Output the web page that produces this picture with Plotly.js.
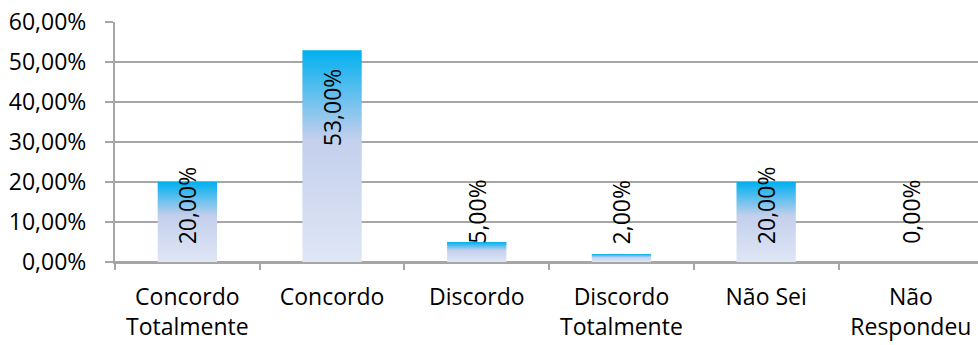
<!DOCTYPE html>
<html>
<head>
<meta charset="utf-8">
<script src="https://cdn.plot.ly/plotly-3.0.1.min.js"></script>
<style>html,body{margin:0;padding:0;background:#fff;}#chart{width:978px;height:345px;}</style>
</head>
<body>
<div id="chart"></div>
<script>
// ---- data ----
const categories = ["Concordo<br>Totalmente", "Concordo", "Discordo", "Discordo<br>Totalmente", "Não Sei", "Não<br>Respondeu"];
const values = [0.20, 0.53, 0.05, 0.02, 0.20, 0.00];
const yTickVals = [0, 0.1, 0.2, 0.3, 0.4, 0.5, 0.6];

// ---- style ----
const FONT = "Open Sans, Liberation Sans, sans-serif";
const FS = 23;
const GRID = "#A6A6A6";
const plotTop = 22, plotBottom = 83, plotH = 345 - plotTop - plotBottom;
const yMax = 0.6;

const fmt = v => (v * 100).toFixed(2).replace(".", ",") + "%";

const textLen = 80, topPad = 17, bottomPad = 17;
const annotations = values.map((v, i) => {
  const barPx = v / yMax * plotH;
  const fits = barPx - topPad - textLen >= bottomPad;
  return {
    x: i, xref: "x", yref: "y",
    y: fits ? v : 0,
    yanchor: fits ? "top" : "bottom",
    yshift: fits ? -topPad : bottomPad,
    xanchor: "center",
    text: fmt(v), textangle: -90, showarrow: false,
    borderpad: 0,
    font: {family: FONT, size: FS, color: "#000"}
  };
});

const trace = {
  type: "bar",
  x: categories,
  y: values,
  width: 0.41,
  marker: {color: "#C5D1EE", line: {width: 0}},
  hoverinfo: "skip"
};

const layout = {
  width: 978, height: 345,
  margin: {l: 115, r: 0, t: plotTop, b: plotBottom, pad: 0},
  paper_bgcolor: "#fff", plot_bgcolor: "#fff",
  separators: ",.",
  showlegend: false,
  font: {family: FONT, size: FS, color: "#000"},
  xaxis: {
    type: "category",
    range: [-0.5, 5.464],
    showgrid: false,
    showline: true, linecolor: GRID, linewidth: 2,
    ticks: "outside", tickson: "boundaries", ticklen: 6, tickwidth: 2, tickcolor: GRID,
    ticklabelstandoff: 13,
    tickfont: {family: FONT, size: FS, color: "#000"},
    fixedrange: true
  },
  yaxis: {
    range: [0, 0.6005],
    tickvals: yTickVals,
    tickformat: ".2%",
    showgrid: true, gridcolor: GRID, gridwidth: 2,
    zeroline: true, zerolinecolor: GRID, zerolinewidth: 2,
    showline: true, linecolor: GRID, linewidth: 2,
    ticks: "outside", ticklen: 8, tickwidth: 2, tickcolor: GRID,
    ticklabelstandoff: 14,
    tickfont: {family: FONT, size: FS, color: "#000"},
    fixedrange: true
  },
  annotations: annotations
};

Plotly.newPlot("chart", [trace], layout, {staticPlot: true, displayModeBar: false}).then(gd => {
  const svg = gd.querySelector("svg.main-svg");
  const ns = "http://www.w3.org/2000/svg";
  let defs = svg.querySelector("defs");
  if (!defs) { defs = document.createElementNS(ns, "defs"); svg.insertBefore(defs, svg.firstChild); }
  const grad = document.createElementNS(ns, "linearGradient");
  grad.setAttribute("id", "barGrad");
  grad.setAttribute("x1", "0"); grad.setAttribute("y1", "0");
  grad.setAttribute("x2", "0"); grad.setAttribute("y2", "1");
  [["0", "#00B0F0"], ["0.42", "#C3CFEC"], ["1", "#DFE6F5"]].forEach(([o, c]) => {
    const s = document.createElementNS(ns, "stop");
    s.setAttribute("offset", o); s.setAttribute("stop-color", c);
    grad.appendChild(s);
  });
  defs.appendChild(grad);
  gd.querySelectorAll(".trace.bars .point path").forEach(p => { p.style.fill = "url(#barGrad)"; });
});
</script>
</body>
</html>
